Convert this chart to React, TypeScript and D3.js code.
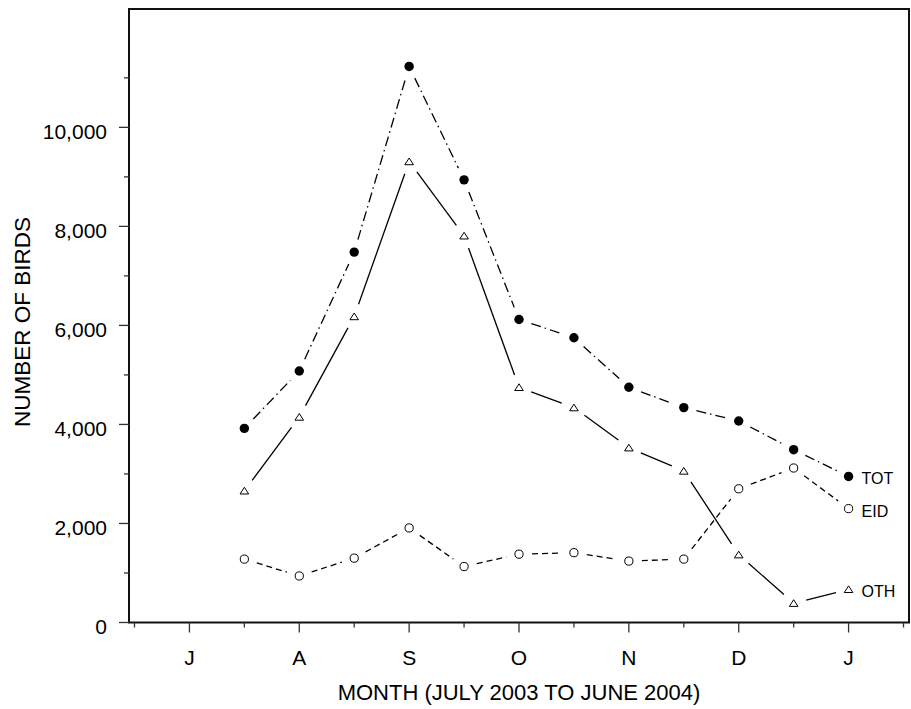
import React, { useEffect, useRef } from 'react';
import * as d3 from 'd3';

// month labels along the x axis (July 2003 .. July 2004)
const months = ['J', 'A', 'S', 'O', 'N', 'D', 'J'];
// survey positions, in months after the first J
const samplePos = [0.5, 1, 1.5, 2, 2.5, 3, 3.5, 4, 4.5, 5, 5.5, 6];

const totValues = [3920, 5080, 7480, 11230, 8940, 6120, 5750, 4750, 4340, 4070, 3490, 2950];
const eidValues = [1280, 940, 1300, 1910, 1130, 1380, 1410, 1240, 1280, 2700, 3120, 2300];
const othValues = [2660, 4150, 6180, 9310, 7810, 4750, 4340, 3530, 3060, 1370, 390, 670];

const yMajorTicks = [0, 2000, 4000, 6000, 8000, 10000];
const yMinorTicks = [1000, 3000, 5000, 7000, 9000, 11000];

const FONT = '"Liberation Sans", Arial, Helvetica, sans-serif';

const App = () => {
  const ref = useRef<SVGSVGElement | null>(null);

  useEffect(() => {
    const svg = d3.select(ref.current);
    svg.selectAll('*').remove();

    const left = 129;
    const right = 909;
    const top = 9;
    const bottom = 622.5;

    const x = d3.scaleLinear().domain([-0.55, 6.55]).range([left, right]);
    const y = d3.scaleLinear().domain([0, 12390]).range([bottom, top]);
    const fmt = d3.format(',');

    // frame
    svg.append('rect')
      .attr('x', left).attr('y', top)
      .attr('width', right - left).attr('height', bottom - top)
      .attr('fill', 'none').attr('stroke', '#111').attr('stroke-width', 2);

    // y ticks
    svg.selectAll('.ymaj').data(yMajorTicks).enter().append('line')
      .attr('x1', left - 10).attr('x2', left)
      .attr('y1', d => y(d)).attr('y2', d => y(d))
      .attr('stroke', '#333').attr('stroke-width', 1.3);
    svg.selectAll('.ymin').data(yMinorTicks).enter().append('line')
      .attr('x1', left - 5).attr('x2', left)
      .attr('y1', d => y(d)).attr('y2', d => y(d))
      .attr('stroke', '#333').attr('stroke-width', 1.3);
    svg.selectAll('.ylab').data(yMajorTicks).enter().append('text')
      .attr('x', 107).attr('y', d => y(d) + 11.5)
      .attr('text-anchor', 'end')
      .attr('font-family', FONT).attr('font-size', 21)
      .text(d => fmt(d));

    // x ticks
    const minorX = d3.range(-0.5, 7, 1);
    svg.selectAll('.xmaj').data(months).enter().append('line')
      .attr('x1', (d, i) => x(i)).attr('x2', (d, i) => x(i))
      .attr('y1', bottom).attr('y2', bottom + 10)
      .attr('stroke', '#333').attr('stroke-width', 1.3);
    svg.selectAll('.xmin').data(minorX).enter().append('line')
      .attr('x1', d => x(d)).attr('x2', d => x(d))
      .attr('y1', bottom).attr('y2', bottom + 5)
      .attr('stroke', '#333').attr('stroke-width', 1.3);
    svg.selectAll('.xlab').data(months).enter().append('text')
      .attr('x', (d, i) => x(i)).attr('y', 665)
      .attr('text-anchor', 'middle')
      .attr('font-family', FONT).attr('font-size', 21)
      .text(d => d);

    // axis titles
    svg.append('text')
      .attr('x', (left + right) / 2).attr('y', 700)
      .attr('text-anchor', 'middle')
      .attr('font-family', FONT).attr('font-size', 22)
      .text('MONTH (JULY 2003 TO JUNE 2004)');
    svg.append('text')
      .attr('transform', 'translate(30,322) rotate(-90)')
      .attr('text-anchor', 'middle')
      .attr('font-family', FONT).attr('font-size', 22.5)
      .text('NUMBER OF BIRDS');

    const series = [
      { name: 'TOT', values: totValues, dash: '10,4,1.5,4', marker: 'fill' },
      { name: 'EID', values: eidValues, dash: '6,4', marker: 'open' },
      { name: 'OTH', values: othValues, dash: null, marker: 'tri' },
    ];

    const gap = 13;

    series.forEach(s => {
      const pts = s.values.map((v, i) => [x(samplePos[i]), y(v)]);
      const g = svg.append('g');

      // line segments stop short of the markers
      for (let i = 0; i < pts.length - 1; i++) {
        const [x0, y0] = pts[i];
        const [x1, y1] = pts[i + 1];
        const len = Math.hypot(x1 - x0, y1 - y0);
        if (len <= gap * 2) continue;
        const ux = (x1 - x0) / len;
        const uy = (y1 - y0) / len;
        const seg = g.append('line')
          .attr('x1', x0 + ux * gap).attr('y1', y0 + uy * gap)
          .attr('x2', x1 - ux * gap).attr('y2', y1 - uy * gap)
          .attr('stroke', '#000').attr('stroke-width', 1.3);
        if (s.dash) seg.attr('stroke-dasharray', s.dash);
      }

      if (s.marker === 'fill') {
        g.selectAll('circle').data(pts).enter().append('circle')
          .attr('cx', d => d[0]).attr('cy', d => d[1]).attr('r', 4.7)
          .attr('fill', '#000');
      } else if (s.marker === 'open') {
        g.selectAll('circle').data(pts).enter().append('circle')
          .attr('cx', d => d[0]).attr('cy', d => d[1]).attr('r', 4.1)
          .attr('fill', '#fff').attr('stroke', '#000').attr('stroke-width', 1);
      } else {
        g.selectAll('path').data(pts).enter().append('path')
          .attr('d', d => `M${d[0]},${d[1] - 3.5}L${d[0] + 4.3},${d[1] + 3.2}L${d[0] - 4.3},${d[1] + 3.2}Z`)
          .attr('fill', '#fff').attr('stroke', '#000').attr('stroke-width', 1);
      }

      const last = pts[pts.length - 1];
      g.append('text')
        .attr('x', last[0] + 13).attr('y', last[1] + 8)
        .attr('font-family', FONT).attr('font-size', 16)
        .text(s.name);
    });
  }, []);

  return (
    <svg
      ref={ref}
      width={911}
      height={709}
      style={{ position: 'absolute', left: 0, top: 0, background: '#fff' }}
    />
  );
};

export default App;
